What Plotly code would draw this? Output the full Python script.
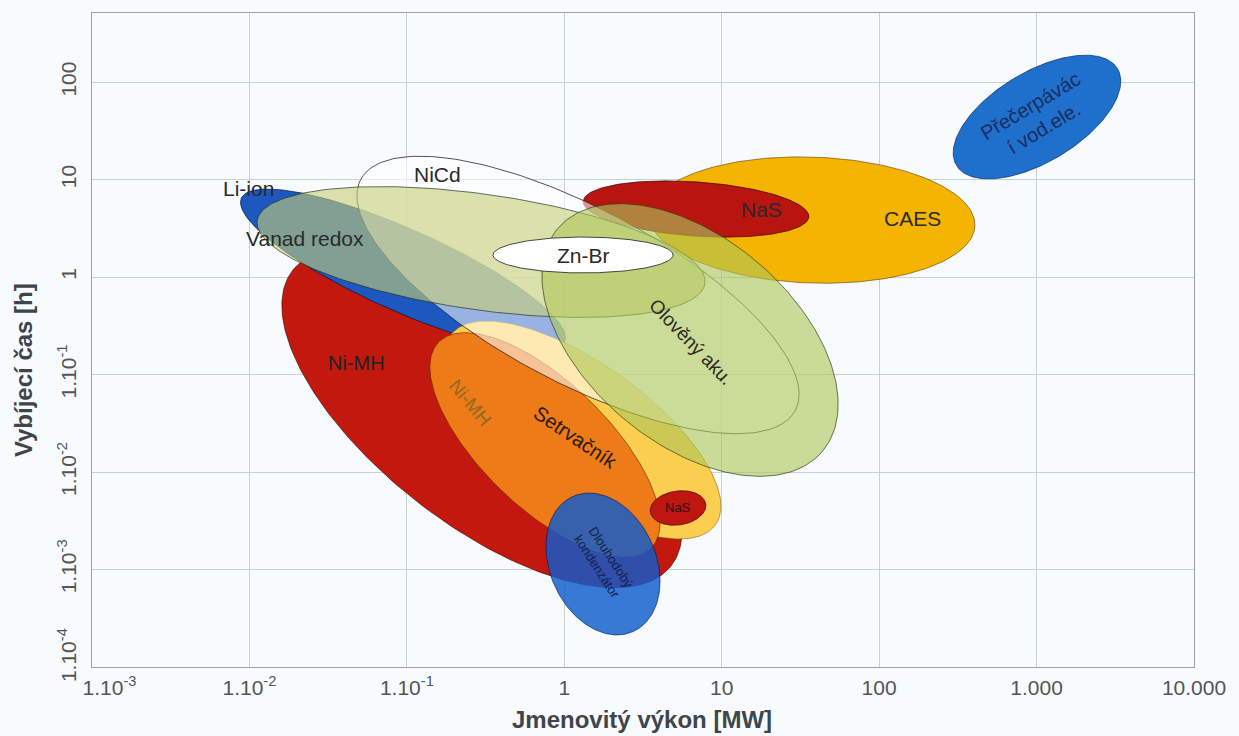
import numpy as np
import plotly.graph_objects as go

# Storage technologies: rated power [MW] vs. discharge time [h]
# Each region is an ellipse in log-log space: centre (MW, h), semi-axes in decades, tilt in degrees
names = ["CAES", "NaS", "Ni-MH", "Li-ion", "Ni-MH (2)", "Setrvačník", "NiCd",
         "Vanad redox", "Olověný aku.", "Zn-Br", "Dlouhodobý kondenzátor", "NaS (malý)",
         "Přečerpávací vod. ele."]
center_mw = [37.5, 6.87, 0.300, 0.0945, 1.315, 0.754, 1.222, 0.296, 6.29, 1.315, 1.762, 5.28, 1006]
center_h = [3.85, 5.0, 0.0359, 1.18, 0.0270, 0.01896, 0.656, 1.81, 0.2265, 1.687, 0.00114, 0.00428, 43.9]
semi_major = [1.035, 0.718, 1.525, 1.124, 1.035, 0.940, 1.563, 1.436, 1.099, 0.572, 0.470, 0.178, 0.597]
semi_minor = [0.400, 0.172, 0.673, 0.260, 0.419, 0.400, 0.553, 0.368, 0.654, 0.114, 0.337, 0.108, 0.286]
tilt_deg = [-2, -4, -38, -24, -35.6, -44, -28, -8, -40, 0, -66, 8, 31]

fills = ["rgb(245,180,0)", "rgb(184,20,16)", "rgb(194,24,14)", "rgb(28,88,190)",
         "rgb(252,206,80)", "rgb(238,122,24)", "rgba(255,255,255,0.55)",
         "rgba(198,206,118,0.6)", "rgba(172,198,88,0.62)", "rgb(255,255,255)",
         "rgba(15,92,205,0.82)", "rgb(192,22,16)", "rgb(30,112,204)"]
edges = ["rgba(90,60,0,0.6)", "rgba(60,0,0,0.7)", "rgba(60,0,0,0.6)", "rgba(0,20,60,0.7)",
         "rgba(120,80,0,0.5)", "rgba(90,40,0,0.6)", "rgba(40,40,40,0.8)",
         "rgba(40,50,30,0.7)", "rgba(50,60,20,0.7)", "rgba(30,30,30,0.8)",
         "rgba(0,20,80,0.6)", "rgba(60,0,0,0.7)", "rgba(0,30,80,0.6)"]

# Text labels
label_text = ["Li-ion", "NiCd", "Vanad redox", "Zn-Br", "NaS", "CAES", "Ni-MH", "Ni-MH",
              "Setrvačník", "Olověný aku.", "Dlouhodobý<br>kondenzátor", "NaS",
              "Přečerpávác<br>í vod.ele."]
label_mw = [0.0098, 0.1554, 0.02254, 1.315, 17.8, 164, 0.0482, 0.2518, 1.17, 6.47, 1.787, 5.3, 1006]
label_h = [8.21, 11.4, 2.52, 1.687, 4.89, 3.95, 0.1315, 0.0512, 0.0229, 0.216, 0.001195, 0.00428, 43.9]
label_angle = [0, 0, 0, 0, 0, 0, 0, 50, 34, 46, 57, 0, -31]
label_size = [21, 21, 21, 21, 21, 21, 20, 19, 20, 19, 13, 13, 20]
label_color = ["#2a2a2a", "#2a2a2a", "#2a2a2a", "#2a2a2a", "#2a2a2a", "#2a2a2a", "#222222",
               "#8f6a22", "#2a1a10", "#2a2a20", "#14204a", "#2a1010", "#1b2c60"]

NB = "\u00a0"
x_tickvals = [1e-3, 1e-2, 1e-1, 1, 10, 100, 1000, 10000]
x_ticktext = [NB * 6 + "1.10<sup>-3</sup>", "1.10<sup>-2</sup>", "1.10<sup>-1</sup>", "1", "10",
              "100", "1.000", "10.000"]
y_tickvals = [1e-4, 1e-3, 1e-2, 1e-1, 1, 10, 100]
y_ticktext = [NB * 3 + "1.10<sup>-4</sup>", "1.10<sup>-3</sup>", "1.10<sup>-2</sup>",
              "1.10<sup>-1</sup>", "1", "10", "100"]
x_title = "Jmenovitý výkon [MW]"
y_title = "Vybíjecí čas [h]"

W, H = 1239, 736
margin = dict(l=92, r=45, t=13, b=69)
x_range = [-3, 4]
y_range = [-4, 2.71]

# ratio of screen length of one y-decade to one x-decade, so ellipses keep their shape
px_x = (W - margin["l"] - margin["r"]) / (x_range[1] - x_range[0])
px_y = (H - margin["t"] - margin["b"]) / (y_range[1] - y_range[0])
k = px_y / px_x

FONT = "Liberation Sans, Arial, sans-serif"

fig = go.Figure()
t = np.linspace(0, 2 * np.pi, 241)
for i in range(len(names)):
    th = np.radians(tilt_deg[i])
    X0 = np.log10(center_mw[i])
    Y0 = np.log10(center_h[i]) * k
    a, b = semi_major[i], semi_minor[i]
    X = X0 + a * np.cos(t) * np.cos(th) - b * np.sin(t) * np.sin(th)
    Y = Y0 + a * np.cos(t) * np.sin(th) + b * np.sin(t) * np.cos(th)
    fig.add_trace(go.Scatter(
        x=10 ** X, y=10 ** (Y / k), mode="lines", fill="toself",
        fillcolor=fills[i], line=dict(color=edges[i], width=1),
        name=names[i], hoverinfo="name", showlegend=False))

for i in range(len(label_text)):
    fig.add_annotation(
        x=np.log10(label_mw[i]), y=np.log10(label_h[i]), text=label_text[i],
        showarrow=False, textangle=label_angle[i],
        font=dict(family=FONT, size=label_size[i], color=label_color[i]))

# axis titles
fig.add_annotation(xref="paper", yref="paper", x=0.499, y=-0.081, text="<b>%s</b>" % x_title,
                   showarrow=False, xanchor="center", yanchor="middle",
                   font=dict(family=FONT, size=24, color="#3f454a"))
fig.add_annotation(xref="paper", yref="paper", x=-0.0626, y=0.454, text="<b>%s</b>" % y_title,
                   showarrow=False, textangle=-90, xanchor="center", yanchor="middle",
                   font=dict(family=FONT, size=24, color="#3f454a"))

bg = "#f7fbfd"
axis_common = dict(type="log", showgrid=True, gridcolor="#c9d1d5", gridwidth=1,
                   zeroline=False, showline=True, linecolor="#9a9fa3", linewidth=1,
                   mirror=True, ticks="",
                   tickfont=dict(family=FONT, size=21, color="#555555"))
fig.update_layout(
    width=W, height=H, margin=margin,
    paper_bgcolor=bg, plot_bgcolor=bg,
    font=dict(family=FONT, color="#555555"),
    xaxis=dict(range=x_range, tickvals=x_tickvals, ticktext=x_ticktext,
               ticklabelstandoff=2, **axis_common),
    yaxis=dict(range=y_range, tickvals=y_tickvals, ticktext=y_ticktext, tickangle=-90,
               ticklabelstandoff=7, **axis_common),
)

fig.write_html("out.html")
